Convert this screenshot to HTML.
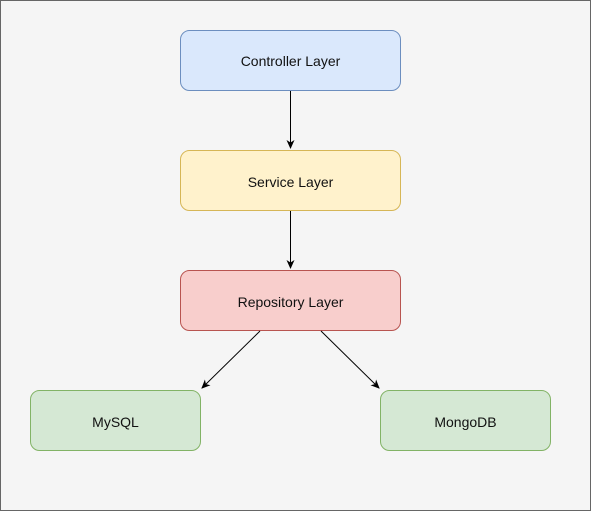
<!DOCTYPE html>
<html><head><style>
html,body{margin:0;padding:0;}
body{width:591px;height:511px;overflow:hidden;}
</style></head><body>
<svg width="591" height="511" xmlns="http://www.w3.org/2000/svg" font-family="Liberation Sans, Arial, sans-serif" font-size="14">
<rect x="0.5" y="0.5" width="590" height="510" fill="#f5f5f5" stroke="#666"/>
<defs><marker id="a" markerWidth="10" markerHeight="10" refX="8" refY="4" orient="auto" markerUnits="userSpaceOnUse"><path d="M0,0 L9,4 L0,8 L2.5,4 Z" fill="#000"/></marker></defs>
<rect x="180.5" y="30.5" width="220" height="60" rx="9" fill="#dae8fc" stroke="#6c8ebf"/>
<text x="290.5" y="66" text-anchor="middle" fill="#111">Controller Layer</text>
<rect x="180.5" y="150.5" width="220" height="60" rx="9" fill="#fff2cc" stroke="#d6b656"/>
<text x="290.5" y="187" text-anchor="middle" fill="#111">Service Layer</text>
<rect x="180.5" y="270.5" width="220" height="60" rx="9" fill="#f8cecc" stroke="#b85450"/>
<text x="290.5" y="307" text-anchor="middle" fill="#111">Repository Layer</text>
<rect x="30.5" y="390.5" width="170" height="60" rx="9" fill="#d5e8d4" stroke="#82b366"/>
<text x="115.5" y="427" text-anchor="middle" fill="#111">MySQL</text>
<rect x="380.5" y="390.5" width="170" height="60" rx="9" fill="#d5e8d4" stroke="#82b366"/>
<text x="465.5" y="427" text-anchor="middle" fill="#111">MongoDB</text>
<line x1="290.5" y1="91" x2="290.5" y2="148" stroke="#000" marker-end="url(#a)"/>
<line x1="290.5" y1="211" x2="290.5" y2="268" stroke="#000" marker-end="url(#a)"/>
<line x1="260" y1="331" x2="202" y2="388" stroke="#000" marker-end="url(#a)"/>
<line x1="321" y1="331" x2="379" y2="388" stroke="#000" marker-end="url(#a)"/>
</svg>
</body></html>
